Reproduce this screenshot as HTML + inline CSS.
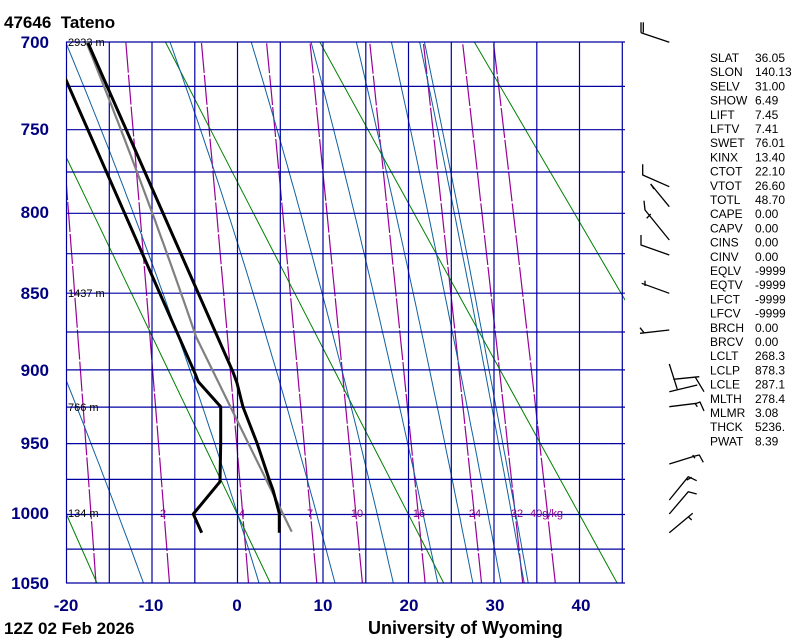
<!DOCTYPE html>
<html><head><meta charset="utf-8"><style>
body{margin:0;background:#fff;width:800px;height:640px;overflow:hidden;font-family:"Liberation Sans",sans-serif}
svg{position:absolute;left:0;top:0}
</style></head><body>
<svg id="s" width="800" height="640" xmlns="http://www.w3.org/2000/svg">
<defs><clipPath id="c"><rect x="66" y="42" width="559" height="541"/></clipPath></defs>
<g id="lines" clip-path="url(#c)"></g>
<g id="top"></g>
<g font-family="Liberation Sans, sans-serif" font-weight="bold" fill="#000080" font-size="17" text-anchor="end">
<text x="49" y="48">700</text><text x="49" y="135">750</text><text x="49" y="218">800</text>
<text x="49" y="299">850</text><text x="49" y="376">900</text><text x="49" y="449">950</text>
<text x="49" y="519">1000</text><text x="49" y="589">1050</text>
</g>
<g font-family="Liberation Sans, sans-serif" font-weight="bold" fill="#000080" font-size="17" text-anchor="middle">
<text x="66" y="611">-20</text><text x="151" y="611">-10</text><text x="237" y="611">0</text>
<text x="323" y="611">10</text><text x="409" y="611">20</text><text x="495" y="611">30</text><text x="581" y="611">40</text>
</g>
<text x="4" y="28" font-weight="bold" font-size="17" fill="#000">47646&#160; Tateno</text>
<text x="4" y="634" font-weight="bold" font-size="17" fill="#000">12Z 02 Feb 2026</text>
<text x="368" y="634" font-weight="bold" font-size="18" fill="#000">University of Wyoming</text>
<g font-size="11" fill="#000">
<text x="68" y="46">2933 m</text><text x="68" y="297">1437 m</text>
<text x="68" y="411">766 m</text><text x="68" y="517">134 m</text>
</g>
<g font-size="11" fill="#900090" text-anchor="middle">
<text x="163" y="517">2</text><text x="242" y="517">4</text><text x="310" y="517">7</text>
<text x="357" y="517">10</text><text x="419" y="517">16</text><text x="475" y="517">24</text>
<text x="517" y="517">32</text><text x="530" y="517" text-anchor="start">40g/kg</text>
</g>
<g id="stats" font-size="12" fill="#000"></g>
<g id="barbs" stroke="#000" stroke-width="1.3" fill="none"></g>
</svg>
<script>
var NS="http://www.w3.org/2000/svg";
var K=541/(Math.pow(1050,0.286)-Math.pow(700,0.286)), P7=Math.pow(700,0.286);
function Y(p){return 42+(Math.pow(p,0.286)-P7)*K;}
function X(T){return 237.5+8.55*T;}
var L=document.getElementById('lines');
function line(pts,col,w,parent,dash){var e=document.createElementNS(NS,'polyline');
e.setAttribute('points',pts.map(function(a){return a[0].toFixed(1)+','+a[1].toFixed(1)}).join(' '));
e.setAttribute('fill','none');e.setAttribute('stroke',col);e.setAttribute('stroke-width',w);
e.setAttribute('stroke-linejoin','round');if(dash)e.setAttribute('stroke-dasharray',dash);(parent||L).appendChild(e);}
[1,2,4,7,10,16,24,32,40].forEach(function(w){var pts=[];for(var p=1050;p>=700;p-=10){var e=w*p/(622+w);var l=Math.log(e/6.112);var td=243.5*l/(17.67-l);pts.push([X(td),Y(p)]);}line(pts,'#990099',1.2,L,'30,2');});
[233.15,253.15,273.15,293.15,313.15,333.15,353.15].forEach(function(th){var pts=[];for(var p=1050;p>=700;p-=50){pts.push([X(th*Math.pow(p/1000,0.286)-273.15),Y(p)]);}line(pts,'#008000',1);});
function dTdp(T,p){var tc=T-273.15;var es=6.112*Math.exp(17.67*tc/(tc+243.5));var rs=0.622*es/(p-es);var Lv=2.501e6,Rd=287.04,cp=1005.7;
return (Rd*T+Lv*rs)/((cp+Lv*Lv*rs*0.622/(Rd*T*T))*p);}
function path(T0){var res={};var T=T0;res[1000]=T;for(var p=1000;p<1050;p++){var k1=dTdp(T,p),k2=dTdp(T+k1,p+1);T+=0.5*(k1+k2);res[p+1]=T;}
T=T0;for(p=1000;p>700;p--){k1=dTdp(T,p);k2=dTdp(T-k1,p-1);T-=0.5*(k1+k2);res[p-1]=T;}return res;}
function solve(pt,Tt){var lo=200,hi=330;for(var i=0;i<40;i++){var m=(lo+hi)/2;var r=path(m)[pt];if(r-273.15>Tt)hi=m;else lo=m;}return path((lo+hi)/2);}
function drawPath(r,col,w,pmax,pmin){var pts=[];for(var p=pmax;p>=pmin;p-=5)pts.push([X(r[p]-273.15),Y(p)]);line(pts,col,w);}
[-20.1,-7.9,1.6,8.6,13.9,18,21.3].forEach(function(t){drawPath(solve(700,t),'#1060a0',1,1050,700);});
drawPath(solve(1050,-11),'#1060a0',1,1050,700);
drawPath(solve(1050,34),'#1060a0',1,1050,700);
var G=document.getElementById('top');
for(var p=700;p<=1050;p+=25)line([[66,Y(p)],[625,Y(p)]],'#0000a0',1.2,G);
for(var t=-20;t<=45;t+=5)line([[X(t),42],[X(t),583]],'#0000a0',1.2,G);
var S=document.createElementNS(NS,'g');S.setAttribute('clip-path','url(#c)');G.appendChild(S);
var lc=solve(878,-4.85);var gp=[[291.7,531.7],[X(lc[878]-273.15),Y(878)]];for(p=875;p>=700;p-=5)gp.push([X(lc[p]-273.15),Y(p)]);
line(gp,'#808080',2.2,S);
line([[279.3,532.7],[279.3,513.3],[273,490],[269,479],[257,443],[243,407],[237,383],[233,372],[88,43]],'#000',3,S);
line([[201.7,532.7],[193.3,514],[220,481.7],[220.7,443],[220.7,406.7],[198.3,381.7],[195,373.3],[65,77.7]],'#000',3,S);
var st=[["SLAT","36.05"],["SLON","140.13"],["SELV","31.00"],["SHOW","6.49"],["LIFT","7.45"],["LFTV","7.41"],["SWET","76.01"],["KINX","13.40"],["CTOT","22.10"],["VTOT","26.60"],["TOTL","48.70"],["CAPE","0.00"],["CAPV","0.00"],["CINS","0.00"],["CINV","0.00"],["EQLV","-9999"],["EQTV","-9999"],["LFCT","-9999"],["LFCV","-9999"],["BRCH","0.00"],["BRCV","0.00"],["LCLT","268.3"],["LCLP","878.3"],["LCLE","287.1"],["MLTH","278.4"],["MLMR","3.08"],["THCK","5236."],["PWAT","8.39"]];
var SG=document.getElementById('stats');
st.forEach(function(r,i){var y=62+i*14.2;[[710,r[0]],[755,r[1]]].forEach(function(a){var t=document.createElementNS(NS,'text');t.setAttribute('x',a[0]);t.setAttribute('y',y.toFixed(1));t.textContent=a[1];SG.appendChild(t);});});
var B=document.getElementById('barbs');
function seg(a,ox,oy){line(a.map(function(q){return [q[0]/3+ox,q[1]/3+oy]}),'#000',1.3,B);}
[[[63,37],[63,68]],[[70,37],[70,68]],[[63,68],[148,97]],[[68,463],[68,495],[148,530]],[[92,522],[148,590]],[[92,522],[102,537]],
[[72,572],[75,600],[148,690]],[[80,625],[92,612]],[[63,675],[63,705],[148,735]],[[65,820],[148,850]],[[75,812],[75,828]],
[[60,953],[72,968]],[[60,970],[148,960]]].forEach(function(a){seg(a,620,10);});
[[[148,72],[172,148]],[[160,118],[238,110]],[[148,155],[232,135]],[[225,110],[252,155]],[[148,200],[230,190],[240,186],[252,213]],[[225,190],[232,200]],
[[148,372],[225,348],[238,345],[250,367]],[[218,345],[225,355]],[[148,480],[205,410],[230,422]],[[200,420],[215,412]],
[[148,522],[205,455],[230,462]],[[148,578],[218,520]],[[205,530],[215,540]]].forEach(function(a){seg(a,620,340);});
</script>
</body></html>
